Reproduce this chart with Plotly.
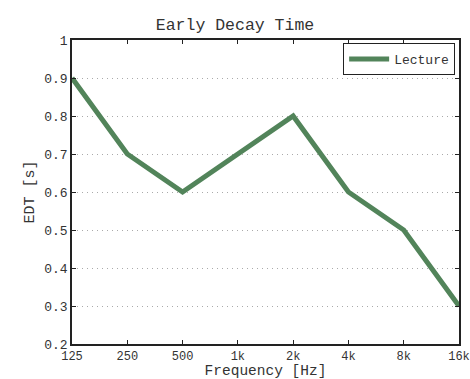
import plotly.graph_objects as go

freq_labels = ["125", "250", "500", "1k", "2k", "4k", "8k", "16k"]
edt_lecture = [0.9, 0.7, 0.6, 0.7, 0.8, 0.6, 0.5, 0.3]
y_ticks = [0.2, 0.3, 0.4, 0.5, 0.6, 0.7, 0.8, 0.9, 1.0]
y_tick_labels = ["0.2", "0.3", "0.4", "0.5", "0.6", "0.7", "0.8", "0.9", "1"]

font = "Liberation Mono, monospace"

fig = go.Figure()
fig.add_trace(go.Scatter(
    x=list(range(len(freq_labels))), y=edt_lecture, mode="lines", name="Lecture",
    line=dict(color="#52845a", width=5),
))

fig.update_layout(
    width=470, height=379,
    margin=dict(l=72, r=11, t=40, b=35, autoexpand=False),
    paper_bgcolor="white", plot_bgcolor="white",
    font=dict(family=font, size=12, color="#333333"),
    title=dict(text="Early Decay Time", x=0.5, xanchor="center", y=0.937, yanchor="middle",
               font=dict(family=font, size=16.5, color="#333333")),
    showlegend=True,
    legend=dict(x=0.99, y=0.99, xanchor="right", yanchor="top",
                bordercolor="#222222", borderwidth=1, bgcolor="white",
                font=dict(family=font, size=13, color="#333333"),
                itemwidth=40, tracegroupgap=0),
)
fig.update_xaxes(
    range=[0, 7], tickmode="array", tickvals=list(range(len(freq_labels))), ticktext=freq_labels,
    showgrid=False, zeroline=False, showline=True, linecolor="#222222", linewidth=1.5,
    mirror="ticks", ticks="inside", ticklen=4, tickcolor="#222222", automargin=False,
    title=dict(text="Frequency [Hz]", standoff=0, font=dict(family=font, size=14.5, color="#333333")),
    tickfont=dict(family=font, size=12, color="#333333"),
)
fig.update_yaxes(
    range=[0.2, 1.0], tickmode="array", tickvals=y_ticks, ticktext=y_tick_labels,
    showgrid=True, gridcolor="#aaaaaa", griddash="1px,4px", gridwidth=1,
    zeroline=False, showline=True, linecolor="#222222", linewidth=1.5,
    mirror="ticks", ticks="inside", ticklen=4, tickcolor="#222222", automargin=False,
    title=dict(text="EDT [s]", standoff=6, font=dict(family=font, size=15, color="#333333")),
    tickfont=dict(family=font, size=13, color="#333333"),
)

fig.write_html("out.html")
